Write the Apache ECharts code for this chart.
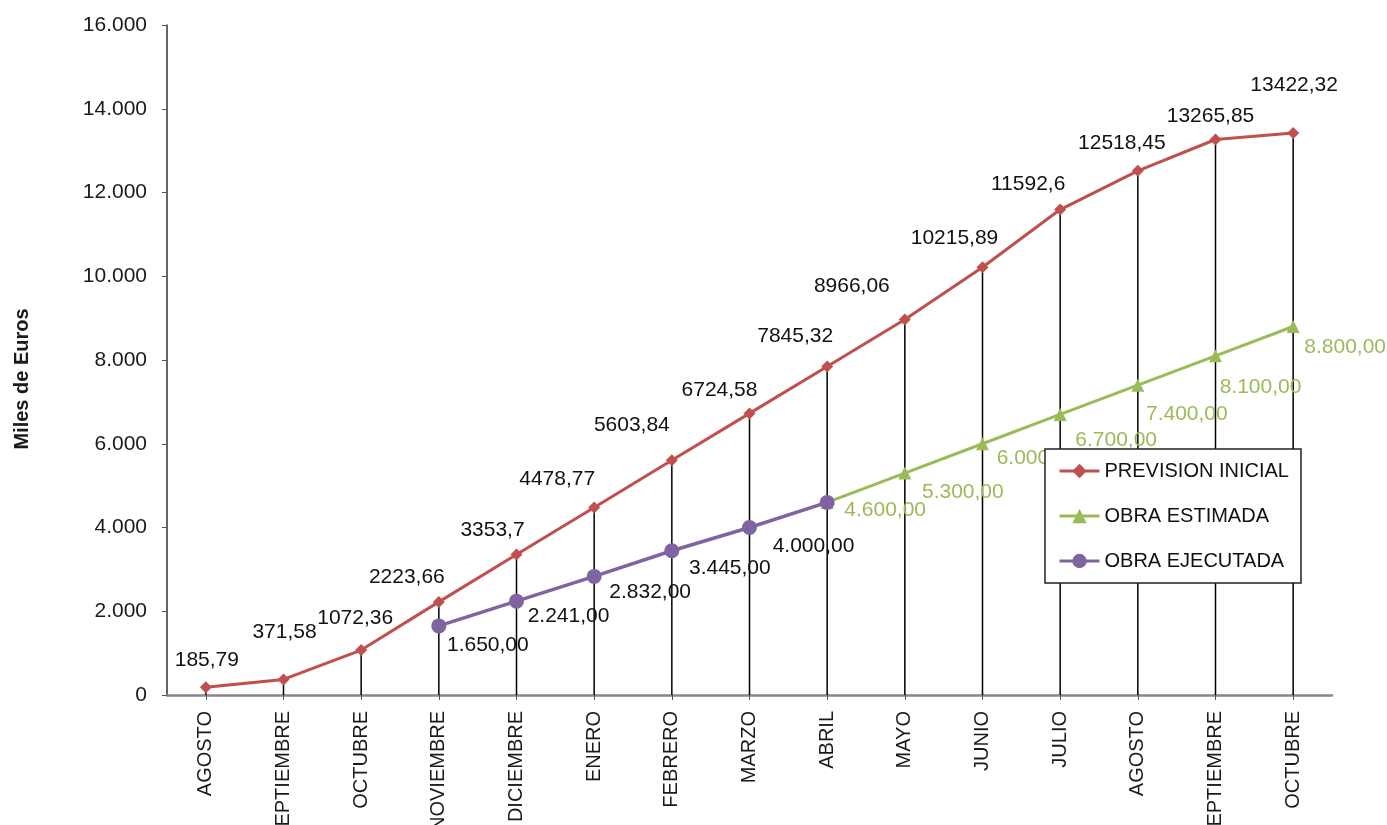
<!DOCTYPE html>
<html>
<head>
<meta charset="utf-8">
<script src="https://cdn.jsdelivr.net/npm/echarts@6/dist/echarts.min.js"></script>
<style>
html,body{margin:0;padding:0;background:#fff;}
#chart{width:1387px;height:825px;}
</style>
</head>
<body>
<div id="chart"></div>
<script>
// ---- data ----
const categories = ['AGOSTO','SEPTIEMBRE','OCTUBRE','NOVIEMBRE','DICIEMBRE','ENERO','FEBRERO','MARZO','ABRIL','MAYO','JUNIO','JULIO','AGOSTO','SEPTIEMBRE','OCTUBRE'];
const previsionInicial = [185.79, 371.58, 1072.36, 2223.66, 3353.7, 4478.77, 5603.84, 6724.58, 7845.32, 8966.06, 10215.89, 11592.6, 12518.45, 13265.85, 13422.32];
const obraEstimada = [null, null, null, null, null, null, null, null, 4600, 5300, 6000, 6700, 7400, 8100, 8800];
const obraEjecutada = [null, null, null, 1650, 2241, 2832, 3445, 4000, 4600, null, null, null, null, null, null];
const yTicks = [0, 2000, 4000, 6000, 8000, 10000, 12000, 14000, 16000];
const seriesNames = ['PREVISION INICIAL', 'OBRA ESTIMADA', 'OBRA EJECUTADA'];

// ---- label placement (style, not data) ----
const redOffsets = [[1,-27],[1,-47],[-6,-32],[-32,-25],[-24,-24],[-37,-28],[-40,-35],[-30,-23],[-32,-30],[-53,-33],[-28,-29],[-32,-25],[-16,-28],[-5,-23],[1,-48]];
const greenOffsets = [null,null,null,null,null,null,null,null,[58,8],[58,19],[55,14],[56,26],[49,29],[45,31],[52,21]];
const purpleOffsets = [null,null,null,[49,19],[52,15],[56,16],[58,17],[64,19],null,null,null,null,null,null,null];

const FONT = "'Liberation Sans', Arial, sans-serif";
function thousands(v) {
  return String(Math.round(v)).replace(/\B(?=(\d{3})+(?!\d))/g, '.');
}
function fmt2(v) {
  const parts = Number(v).toFixed(2).split('.');
  return thousands(Number(parts[0])) + ',' + parts[1];
}
function buildData(values, offsets) {
  return values.map((v, i) => {
    if (v === null) return null;
    const off = offsets[i];
    return {
      value: v,
      label: off ? { show: true, offset: off } : { show: false }
    };
  });
}

const chart = echarts.init(document.getElementById('chart'), null, { renderer: 'canvas' });
const option = {
  backgroundColor: '#ffffff',
  animation: false,
  textStyle: { fontFamily: FONT },
  grid: { left: 167, right: 55, top: 25, bottom: 130, containLabel: false, outerBoundsMode: 'none' },
  legend: {
    data: seriesNames,
    orient: 'vertical',
    left: 1045,
    top: 449,
    padding: [12, 12, 12, 13],
    itemGap: 25,
    itemWidth: 40,
    itemHeight: 18,
    backgroundColor: '#ffffff',
    borderColor: '#222',
    borderWidth: 1.5,
    borderRadius: 0,
    lineStyle: { width: 3 },
    textStyle: { fontFamily: FONT, fontSize: 20, color: '#111', lineHeight: 20 },
    z: 10
  },
  xAxis: {
    type: 'category',
    data: categories,
    boundaryGap: true,
    axisLine: { lineStyle: { color: '#888', width: 2.5 } },
    axisTick: { show: true, alignWithLabel: true, length: 5, lineStyle: { color: '#555', width: 1 } },
    axisLabel: { rotate: 90, margin: 16, fontSize: 20, color: '#1a1a1a', fontFamily: FONT, interval: 0 },
    splitLine: { show: false }
  },
  yAxis: {
    type: 'value',
    min: yTicks[0],
    max: yTicks[yTicks.length - 1],
    interval: yTicks[1] - yTicks[0],
    axisLine: { show: true, lineStyle: { color: '#333', width: 1.5 } },
    axisTick: { show: true, length: 5, lineStyle: { color: '#555' } },
    axisLabel: { margin: 20, fontSize: 21, color: '#1a1a1a', fontFamily: FONT, formatter: v => thousands(v) },
    splitLine: { show: false }
  },
  graphic: [{
    type: 'text',
    x: 22,
    y: 379,
    rotation: Math.PI / 2,
    style: {
      text: 'Miles de Euros',
      fontFamily: FONT,
      fontSize: 20,
      fontWeight: 'bold',
      fill: '#1a1a1a',
      align: 'center',
      verticalAlign: 'middle'
    }
  }],
  series: [
    {
      name: 'dropLines',
      type: 'bar',
      data: previsionInicial,
      barWidth: 1.5,
      itemStyle: { color: '#000' },
      silent: true,
      z: 1
    },
    {
      name: seriesNames[0],
      type: 'line',
      data: buildData(previsionInicial, redOffsets),
      symbol: 'diamond',
      symbolSize: 12,
      lineStyle: { color: '#C0504D', width: 3 },
      itemStyle: { color: '#C0504D' },
      label: {
        show: true,
        position: 'inside',
        fontFamily: FONT,
        fontSize: 21,
        color: '#111',
        formatter: p => String(p.value).replace('.', ',')
      },
      z: 3
    },
    {
      name: seriesNames[1],
      type: 'line',
      data: buildData(obraEstimada, greenOffsets),
      symbol: 'triangle',
      symbolSize: 13,
      lineStyle: { color: '#9BBB59', width: 3 },
      itemStyle: { color: '#9BBB59' },
      label: {
        show: true,
        position: 'inside',
        fontFamily: FONT,
        fontSize: 21,
        color: '#9BBB59',
        formatter: p => fmt2(p.value)
      },
      z: 3
    },
    {
      name: seriesNames[2],
      type: 'line',
      data: buildData(obraEjecutada, purpleOffsets),
      symbol: 'circle',
      symbolSize: 15,
      lineStyle: { color: '#8064A2', width: 3.5 },
      itemStyle: { color: '#8064A2' },
      label: {
        show: true,
        position: 'inside',
        fontFamily: FONT,
        fontSize: 21,
        color: '#111',
        formatter: p => fmt2(p.value)
      },
      z: 4
    }
  ]
};
chart.setOption(option);
</script>
</body>
</html>
